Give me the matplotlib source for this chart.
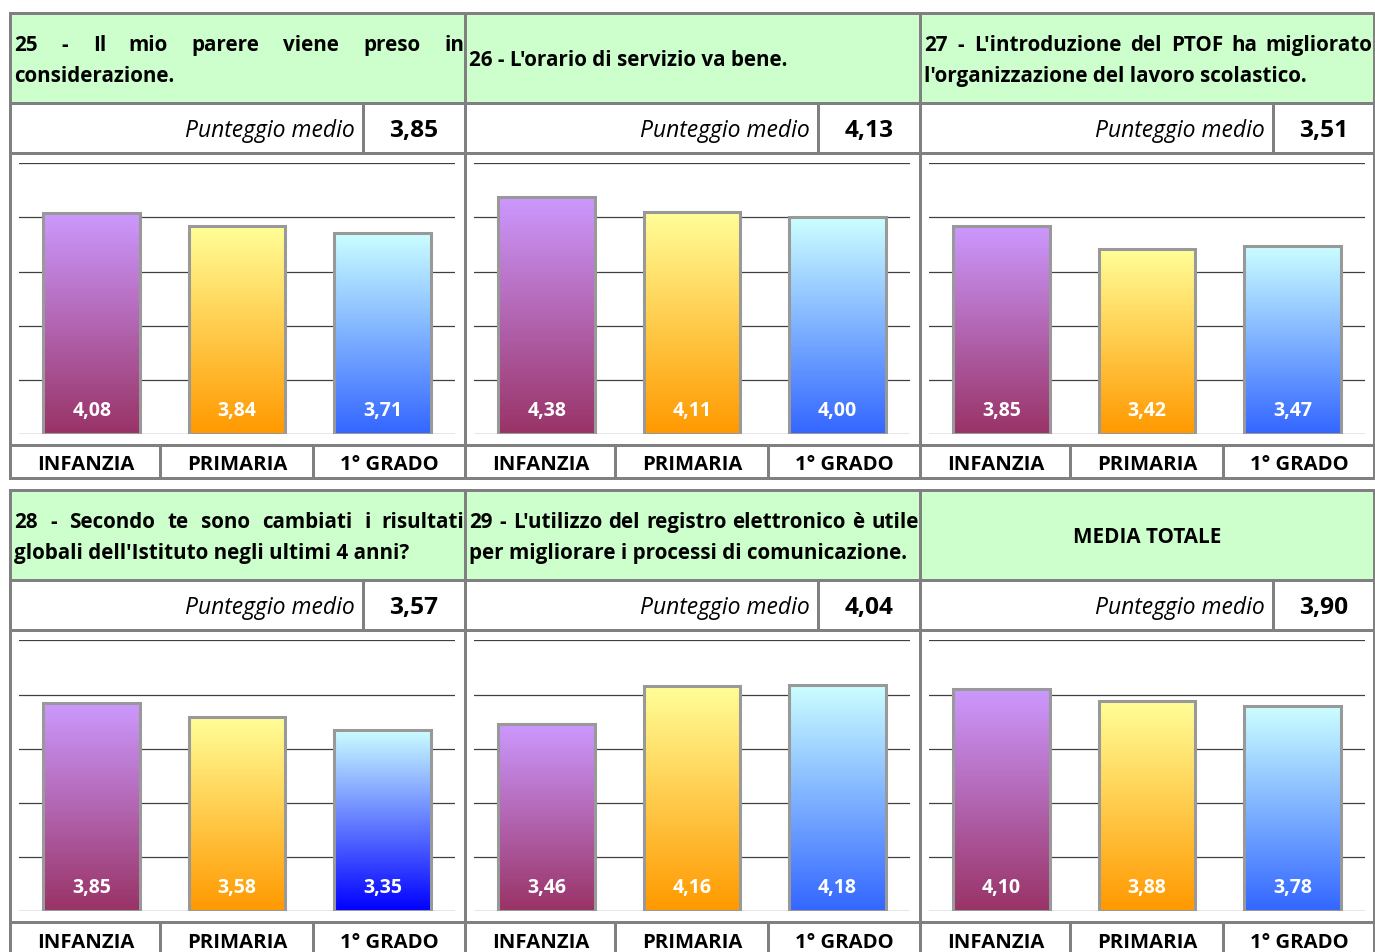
import numpy as np
import matplotlib
matplotlib.use("Agg")
import matplotlib.pyplot as plt
from matplotlib.font_manager import FontProperties
from matplotlib.textpath import TextPath
from matplotlib.colors import to_rgb
from matplotlib.patches import Rectangle

# ---------------- data ----------------
categories = ["INFANZIA", "PRIMARIA", "1° GRADO"]
titles = [
    ["25 - Il mio parere viene preso in", "considerazione."],
    ["26 - L'orario di servizio va bene."],
    ["27 - L'introduzione del PTOF ha migliorato", "l'organizzazione del lavoro scolastico."],
    ["28 - Secondo te sono cambiati i risultati", "globali dell'Istituto negli ultimi 4 anni?"],
    ["29 - L'utilizzo del registro elettronico è utile", "per migliorare i processi di comunicazione."],
    ["MEDIA TOTALE"],
]
means = ["3,85", "4,13", "3,51", "3,57", "4,04", "3,90"]
infanzia = [4.08, 4.38, 3.85, 3.85, 3.46, 4.10]
primaria = [3.84, 4.11, 3.42, 3.58, 4.16, 3.88]
grado1 = [3.71, 4.00, 3.47, 3.35, 4.18, 3.78]
mean_label = "Punteggio medio"

# ---------------- style ----------------
W, H, DPI = 1375, 952, 100
FONT = "Open Sans"
GREEN = "#ccffcc"
BORDER = "#808080"
GRID = "#404040"
TOPS = ["#cc99ff", "#ffff99", "#ccffff"]
BOTTOMS = ["#993366", "#ff9900", "#3366ff"]
BOTTOM_OVERRIDE = {(3, 2): "#0000ff"}

fig = plt.figure(figsize=(W / DPI, H / DPI), dpi=DPI)
bg = fig.add_axes([0, 0, 1, 1])
bg.set_xlim(0, W)
bg.set_ylim(H, 0)
bg.axis("off")


def px_width(s, size, weight="normal", style="normal"):
    fp = FontProperties(family=FONT, weight=weight, style=style, size=size)
    tp = TextPath((0, 0), s, prop=fp, size=size)
    return tp.get_extents().width * DPI / 72.0


def fit(s, target, weight="normal", style="normal"):
    return 10 * target / px_width(s, 10, weight, style)


fs_title = fit("considerazione.", 159, "bold")
fs_pm = fit("Punteggio medio", 168, style="italic")
fs_val = fit("3,85", 47, "bold")
fs_lab = fit("INFANZIA", 95, "bold")
fs_bar = fit("4,08", 38, "bold")

LW = 3 * 72 / DPI


def hline(y, x0, x1, lw=LW):
    bg.plot([x0, x1], [y, y], color=BORDER, lw=lw, solid_capstyle="projecting", zorder=5)


def vline(x, y0, y1, lw=LW):
    bg.plot([x, x], [y0, y1], color=BORDER, lw=lw, solid_capstyle="projecting", zorder=5)


def txt(x, y, s, size, ha="left", weight="bold", style="normal", color="black"):
    bg.text(x, y, s, fontsize=size, fontweight=weight, fontstyle=style, family=FONT,
            ha=ha, va="center_baseline", color=color, zorder=6)


def justified(line, left, right, y):
    words = line.split(" ")
    widths = [px_width(w, fs_title, "bold") for w in words]
    gap = (right - left - sum(widths)) / (len(words) - 1)
    x = left
    for w, wd in zip(words, widths):
        txt(x, y, w, fs_title)
        x += wd + gap


for k in range(6):
    r, c = divmod(k, 3)
    x0 = 10 + 455 * c
    y0 = 13 + 477 * r
    x1 = min(x0 + 455, 1374)
    # green header
    bg.add_patch(Rectangle((x0, y0), x1 - x0, 90, facecolor=GREEN, edgecolor="none", zorder=1))
    for yy in (y0, y0 + 90, y0 + 140, y0 + 432, y0 + 465):
        hline(yy, x0, x1)
    vline(x0, y0, y0 + 465)
    vline(x1, y0, y0 + 465)
    vline(x0 + 353, y0 + 90, y0 + 140)
    vline(x0 + 150, y0 + 432, y0 + 465)
    vline(x0 + 303, y0 + 432, y0 + 465)

    # header text
    lines = titles[k]
    left, right = x0 + 4, x1 - 4
    if len(lines) == 2:
        justified(lines[0], left, right, y0 + 30)
        txt(left, y0 + 61, lines[1], fs_title)
    elif lines[0].startswith("MEDIA"):
        txt((x0 + x1) / 2, y0 + 45, lines[0], fs_title, ha="center")
    else:
        txt(left, y0 + 45, lines[0], fs_title)

    # mean row
    txt(x0 + 345, y0 + 115, mean_label, fs_pm, ha="right", weight="normal", style="italic")
    txt(x0 + 404, y0 + 115, means[k], fs_val, ha="center")

    # category labels
    for cx, lab in zip((x0 + 76, x0 + 227, x0 + 379), categories):
        txt(cx, y0 + 450, lab, fs_lab, ha="center")

    # chart
    ax_l, ax_r = x0 + 9, x0 + 445
    ax_t, ax_b = y0 + 150.3, y0 + 421.3
    ax = fig.add_axes([ax_l / W, 1 - ax_b / H, (ax_r - ax_l) / W, (ax_b - ax_t) / H])
    ax.patch.set_alpha(0)
    for yv in range(6):
        ax.axhline(yv, color=GRID, lw=0.9, zorder=1)
    vals = [infanzia[k], primaria[k], grado1[k]]
    bw = 0.667
    for i, v in enumerate(vals):
        top = np.array(to_rgb(TOPS[i]))
        bot = np.array(to_rgb(BOTTOM_OVERRIDE.get((k, i), BOTTOMS[i])))
        t = np.linspace(0, 1, 256)[:, None]
        img = (bot[None, :] * (1 - t) + top[None, :] * t)[:, None, :]
        ax.imshow(img, extent=[i - bw / 2, i + bw / 2, 0, v], origin="lower",
                  aspect="auto", zorder=2, interpolation="bilinear")
        ax.add_patch(Rectangle((i - bw / 2, 0), bw, v, facecolor="none",
                               edgecolor="#999999", lw=2.2, zorder=3))
        ax.annotate(f"{v:.2f}".replace(".", ","), xy=(i, 0), xytext=(0, 26 * 72 / DPI),
                    textcoords="offset points", ha="center", va="center_baseline",
                    color="white", fontsize=fs_bar, fontweight="bold", family=FONT, zorder=4)
    ax.set_xlim(-0.5, 2.5)
    ax.set_ylim(0, 5)
    ax.axis("off")

fig.savefig("out.png", dpi=DPI)
